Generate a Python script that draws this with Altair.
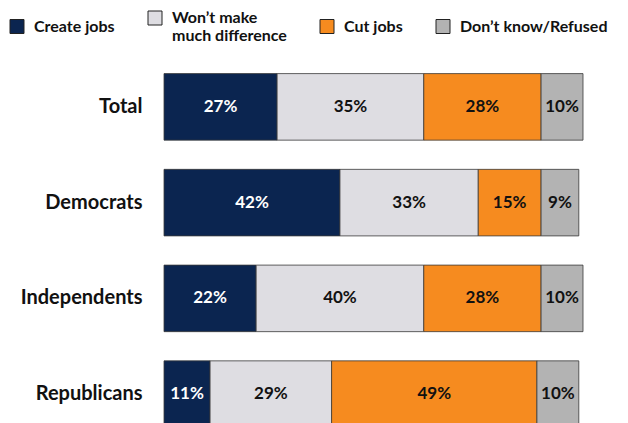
import altair as alt
import pandas as pd

groups = ["Total", "Democrats", "Independents", "Republicans"]
responses = ["Create jobs", "Won’t make much difference", "Cut jobs", "Don’t know/Refused"]
create_jobs = [27, 42, 22, 11]
no_difference = [35, 33, 40, 29]
cut_jobs = [28, 15, 28, 49]
dont_know = [10, 9, 10, 10]
colors = ["#0B2550", "#DEDDE2", "#F68B1F", "#B3B3B3"]
text_colors = ["#FFFFFF", "#111111", "#111111", "#111111"]

series = [create_jobs, no_difference, cut_jobs, dont_know]
rows = []
for gi, g in enumerate(groups):
    for ri, r in enumerate(responses):
        rows.append({"group": g, "response": r, "value": series[ri][gi],
                     "order": ri, "tcolor": text_colors[ri]})
df = pd.DataFrame(rows)

FONT = "Lato"

base = alt.Chart(df).transform_stack(
    stack="value", groupby=["group"], as_=["x0", "x1"],
    sort=[alt.SortField("order", order="ascending")]
).transform_calculate(
    mid="(datum.x0 + datum.x1) / 2",
    label="datum.value + '%'"
)

y_enc = alt.Y(
    "group:N", sort=groups, title=None,
    scale=alt.Scale(paddingInner=0.305, paddingOuter=0.1525),
    axis=alt.Axis(ticks=False, domain=False, labelPadding=22,
                  labelFont=FONT, labelFontSize=20, labelFontWeight="bold",
                  labelColor="#111111", labelBaseline="middle", labelLimit=200),
)

bars = base.mark_bar(stroke="#3A3A3A", strokeWidth=0.8).encode(
    x=alt.X("x0:Q", scale=alt.Scale(domain=[0, 100], nice=False), axis=None),
    x2="x1:Q",
    y=y_enc,
    color=alt.Color(
        "response:N",
        scale=alt.Scale(domain=responses, range=colors),
        legend=alt.Legend(
            orient="none", legendX=-155, legendY=-49, direction="horizontal",
            title=None, symbolType="square", symbolSize=196,
            symbolStrokeColor="#222222", symbolStrokeWidth=1,
            labelFont=FONT, labelFontSize=16, labelFontWeight="bold",
            labelColor="#111111", columnPadding=31, labelOffset=9,
            labelLimit=300, padding=0,
            labelExpr="datum.label == 'Won’t make much difference' ? ['Won’t make', 'much difference'] : datum.label",
        ),
    ),
    order=alt.Order("order:Q"),
)

texts = base.mark_text(font=FONT, fontSize=17, fontWeight="bold").encode(
    x=alt.X("mid:Q", scale=alt.Scale(domain=[0, 100], nice=False), axis=None),
    y=alt.Y("group:N", sort=groups),
    text="label:N",
    color=alt.Color("tcolor:N", scale=None),
)

chart = alt.layer(bars, texts).properties(
    width=419, height=383,
    autosize=alt.AutoSizeParams(type="none"),
    padding={"left": 156, "top": 51, "right": 37, "bottom": 0},
    background="white",
).configure_view(stroke=None)

chart.save("out.html", embed_options={"renderer": "svg", "actions": False})
